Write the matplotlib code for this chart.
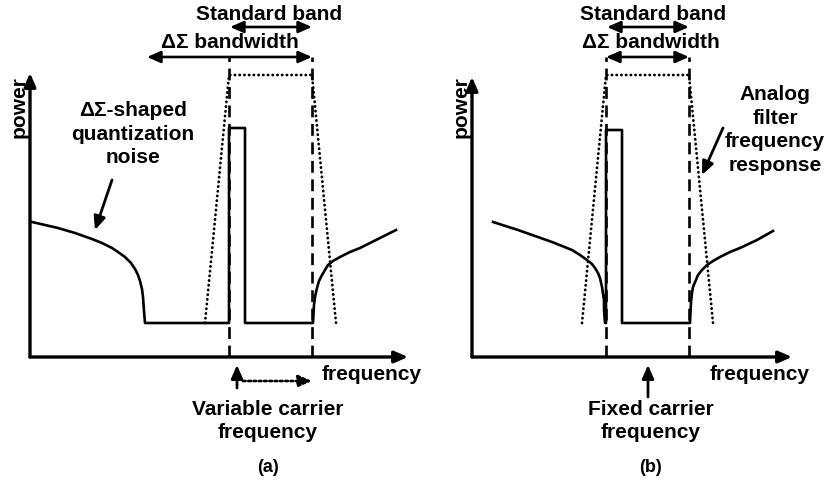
import matplotlib
matplotlib.use('Agg')
import matplotlib.pyplot as plt

plt.rcParams['font.family'] = ['Liberation Sans', 'DejaVu Sans']
plt.rcParams['font.weight'] = 'bold'

# panel (a): variable carrier, spectrum drawn in frequency / power units
sig_a_f = [2, 28, 45, 62, 72, 82, 88, 95, 101, 105, 108, 110, 112, 113, 114, 115,
           199, 199, 215, 215,
           282, 283, 284, 285, 287, 289, 292, 298, 303, 310, 320, 330, 350, 366]
sig_a_p = [135, 129, 124, 118, 114, 109, 105, 100, 94, 88, 82, 76, 68, 60, 46, 34,
           34, 229, 229, 34,
           34, 34, 52, 60, 69, 76, 82, 92, 96, 100, 105, 109, 119, 127]
band_a = [199, 282]
filt_a_f = [175, 199, 282, 306]
filt_a_p = [34, 282, 282, 34]
dsbw_a = [117, 282]

# panel (b): fixed carrier
sig_b_f = [21, 46, 63, 80, 100, 108, 115, 120, 123, 126, 128, 130, 132, 132, 133,
           134, 134, 150, 150,
           217, 218, 219, 220, 221, 226, 230, 235, 241, 248, 258, 268, 285, 301]
sig_b_p = [135, 127, 121, 115, 107, 102, 97, 93, 89, 84, 79, 70, 57, 47, 34,
           34, 227, 227, 34,
           34, 34, 55, 64, 70, 82, 87, 92, 96, 100, 105, 109, 117, 126]
band_b = [134, 217]
filt_b_f = [110, 134, 217, 241]
filt_b_p = [34, 282, 282, 34]
dsbw_b = [134, 217]

fig = plt.figure(figsize=(8.27, 4.83), dpi=100)
ax_a = fig.add_axes([0, 0, 413 / 827, 1])
ax_b = fig.add_axes([413 / 827, 0, 414 / 827, 1])
ax_a.set_xlim(-30, 383)
ax_b.set_xlim(-59, 355)
fs = 15
ls_txt = 1.31


def arrow(ax, start, end, style='-|>', lw=2.2, ls='-', scale=10):
    ax.annotate('', xy=end, xytext=start,
                arrowprops=dict(arrowstyle=style + ',head_length=0.8,head_width=0.35',
                                lw=lw, color='black', linestyle=ls,
                                shrinkA=0, shrinkB=0, mutation_scale=scale))


def panel(ax, sig_f, sig_p, band, filt_f, filt_p, dsbw, xlen, ylen):
    ax.set_ylim(-126, 357)
    ax.axis('off')
    # axes with arrows
    arrow(ax, (0, 0), (xlen, 0), lw=2.4)
    arrow(ax, (0, 0), (0, ylen), lw=2.4)
    # signal + shaped noise
    ax.plot(sig_f, sig_p, color='black', lw=1.9, solid_joinstyle='round')
    # band edges
    for f in band:
        ax.plot([f, f], [0, 300], color='black', lw=1.9, linestyle=(0, (4.5, 2.5)))
    # analog filter response
    ax.plot(filt_f, filt_p, color='black', lw=2.0, linestyle=(0, (0.1, 1.6)),
            dash_capstyle='round')
    # bandwidth arrows
    arrow(ax, (dsbw[0], 300), (dsbw[1], 300), style='<|-|>', lw=1.9)
    arrow(ax, (band[0] + 1, 330), (band[1], 330), style='<|-|>', lw=1.9)
    ax.text(-11, 250, 'power', rotation=90, ha='center', va='center', fontsize=fs)


panel(ax_a, sig_a_f, sig_a_p, band_a, filt_a_f, filt_a_p, dsbw_a, 378, 284)
panel(ax_b, sig_b_f, sig_b_p, band_b, filt_b_f, filt_b_p, dsbw_b, 320, 280)

# texts panel (a)
ax_a.text(239, 342, 'Standard band', ha='center', va='center', fontsize=fs)
ax_a.text(200, 314, 'ΔΣ bandwidth', ha='center', va='center', fontsize=fs)
ax_a.text(103, 223, 'ΔΣ-shaped\nquantization\nnoise', ha='center', va='center',
          fontsize=fs, linespacing=ls_txt)
arrow(ax_a, (82, 177), (65, 127), lw=2.0)
arrow(ax_a, (207, -31), (207, -8), lw=2.0)
arrow(ax_a, (213, -24), (282, -24), lw=1.9, ls=(0, (1, 1)))
ax_a.text(292, -18, 'frequency', ha='left', va='center', fontsize=fs)
ax_a.text(238, -64, 'Variable carrier\nfrequency', ha='center', va='center',
          fontsize=fs, linespacing=ls_txt)
ax_a.text(238, -110, '(a)', ha='center', va='center', fontsize=13)

# texts panel (b)
ax_b.text(181, 342, 'Standard band', ha='center', va='center', fontsize=fs)
ax_b.text(179, 314, 'ΔΣ bandwidth', ha='center', va='center', fontsize=fs)
ax_b.text(303, 227, 'Analog\nfilter\nfrequency\nresponse', ha='center', va='center',
          fontsize=fs, linespacing=ls_txt)
arrow(ax_b, (251, 229), (230, 182), lw=2.0)
arrow(ax_b, (176, -40), (176, -8), lw=2.0)
ax_b.text(238, -18, 'frequency', ha='left', va='center', fontsize=fs)
ax_b.text(179, -64, 'Fixed carrier\nfrequency', ha='center', va='center',
          fontsize=fs, linespacing=ls_txt)
ax_b.text(179, -110, '(b)', ha='center', va='center', fontsize=13)

fig.savefig('out.png', dpi=100)
